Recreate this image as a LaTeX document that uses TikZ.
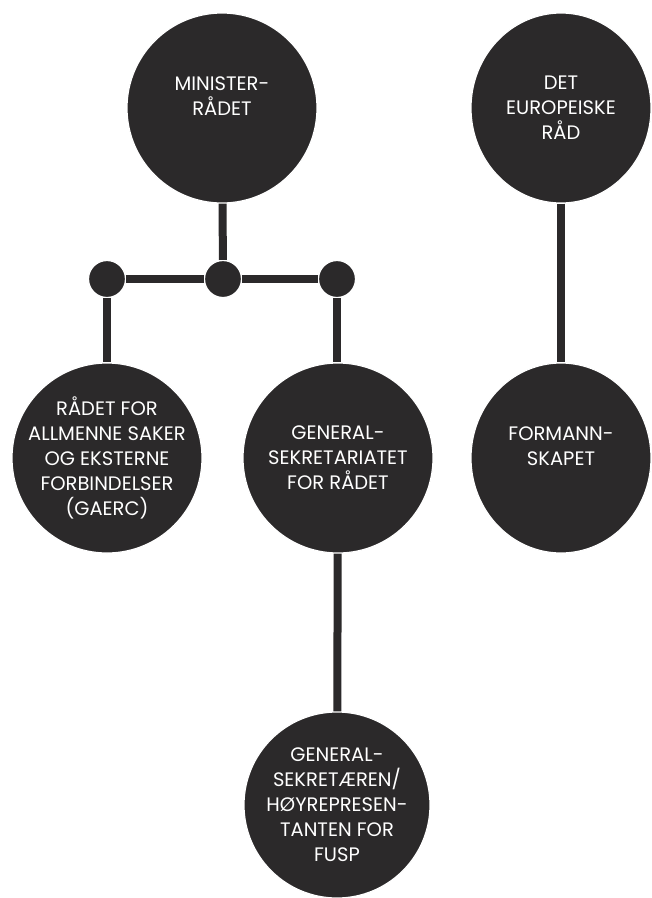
\documentclass[tikz,border=0pt]{standalone}
\usepackage{fontspec}
\setmainfont{Poppins}
\usetikzlibrary{shapes.geometric}
\definecolor{orgdark}{RGB}{43,41,42}
\begin{document}
\begin{tikzpicture}[x=1pt, y=-1pt,
	organ/.style={circle, fill=orgdark, draw=white, line width=1.2pt, minimum size=190pt, inner sep=0pt},
	wideorgan/.style={ellipse, fill=orgdark, draw=white, line width=1.2pt, minimum width=180pt, minimum height=190pt, inner sep=0pt},
	hub/.style={circle, fill=orgdark, draw=white, line width=1.2pt, minimum size=37pt, inner sep=0pt},
	caption/.style={text=white, align=center, font=\fontsize{19.5}{25}\selectfont},
	link/.style={draw=orgdark, line width=8pt}]
			\useasboundingbox (0,0) rectangle (652,898);
			\node[organ, label={[caption, yshift=12pt]center:MINISTER-\\RÅDET}] (minister) at (222,108) {};
			\node[wideorgan, label={[caption]center:DET\\EUROPEISKE\\RÅD}] (europa) at (561,108) {};
			\node[hub] (hubmid) at (223,279) {};
			\node[hub] (hubleft) at (107,279) {};
			\node[hub] (hubright) at (337,279) {};
			\node[organ, label={[caption]center:RÅDET FOR\\ALLMENNE SAKER\\OG EKSTERNE\\FORBINDELSER\\(GAERC)}] (gaerc) at (107,458) {};
			\node[organ, label={[caption]center:GENERAL-\\SEKRETARIATET\\FOR RÅDET}] (sekretariat) at (338,458) {};
			\node[wideorgan, label={[caption, yshift=12pt]center:FORMANN-\\SKAPET}] (formann) at (561,458) {};
			\node[organ, minimum size=186pt, label={[caption]center:GENERAL-\\SEKRETÆREN/\\HØYREPRESEN-\\TANTEN FOR\\FUSP}] (hr) at (337,805) {};
			\draw[link] (minister) -- (hubmid);
			\draw[link] (hubleft) -- (hubmid);
			\draw[link] (hubmid) -- (hubright);
			\draw[link] (hubleft) -- (gaerc);
			\draw[link] (hubright) -- (hubright |- sekretariat.north);
			\draw[link] (europa) -- (formann);
			\draw[link] (sekretariat) -- (hr);
			\end{tikzpicture}
\end{document}
